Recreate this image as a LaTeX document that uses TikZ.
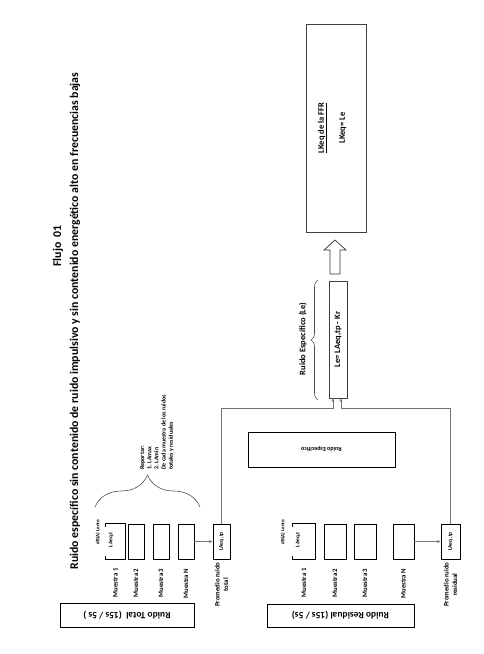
\documentclass[tikz,border=0pt]{standalone}
\usepackage{fontspec}
\setmainfont{Carlito}
\usetikzlibrary{arrows.meta, positioning, decorations.pathreplacing}

\begin{document}
\begin{tikzpicture}[x=1pt, y=-1pt,
    box/.style={rectangle, draw, line width=0.9pt, inner sep=0pt, align=center, font=\bfseries},
    thinbox/.style={rectangle, draw=black!75, line width=0.6pt, inner sep=0pt},
    sample/.style={rectangle, draw, line width=0.9pt, inner sep=0pt, minimum height=35pt},
    tag/.style={rotate=90, align=center, inner sep=0pt, font=\fontsize{6.8}{8.5}\selectfont\bfseries},
    small/.style={rotate=90, align=center, inner sep=0pt, font=\fontsize{5}{6}\selectfont\bfseries},
    big/.style={rotate=90, align=center, inner sep=0pt, font=\fontsize{8.5}{10}\selectfont\bfseries},
    wire/.style={draw=black!55, line width=0.6pt},
    arrow/.style={wire, -{Stealth[length=3.5pt, width=3pt]}},
    brace/.style={draw=black!70, line width=0.6pt, decorate}
]
    \useasboundingbox (0,0) rectangle (484,654);

    % Title
    \node[rotate=90, font=\fontsize{11.8}{13}\selectfont\bfseries] (flujo) at (58,246) {Flujo~~01};
    \node[rotate=90, font=\fontsize{11.8}{13}\selectfont\bfseries] (titulo) at (75,321)
        {Ruido específico sin contenido de ruido impulsivo y sin contenido energético alto en frecuencias bajas};

    % Boxes
    \node[box, rotate=180, minimum width=134pt, minimum height=24pt, font=\fontsize{9.5}{11}\selectfont\bfseries] (total) at (127,615) {Ruido Total~~(15s / 5s )};
    \node[box, rotate=180, minimum width=147pt, minimum height=23pt, font=\fontsize{9.5}{11}\selectfont\bfseries] (residual) at (340.5,615.5) {Ruido Residual (15s / 5s)};
    \node[box, rotate=180, minimum width=147pt, minimum height=35pt, font=\fontsize{6}{7}\selectfont\bfseries] (especifico) at (321.5,449.5) {Ruido Especifico};

    % Samples, ruido total
    \node[minimum width=19pt, minimum height=35pt, inner sep=0pt] (t1) at (115.5,541.5) {};
    \node[sample, minimum width=16pt] (t2) at (136,541.5) {};
    \node[sample, minimum width=16pt] (t3) at (161,541.5) {};
    \node[sample, minimum width=16pt] (tN) at (186,541.5) {};
    \node[sample, minimum width=17pt] (tp) at (221.5,541.5) {};

    % Samples, ruido residual
    \node[minimum width=22pt, minimum height=35pt, inner sep=0pt] (r1) at (304,541.5) {};
    \node[sample, minimum width=22pt] (r2) at (335,541.5) {};
    \node[sample, minimum width=22pt] (r3) at (365,541.5) {};
    \node[sample, minimum width=21pt] (rN) at (403.5,541.5) {};
    \node[sample, minimum width=19pt] (rp) at (450.5,541.5) {};

    \draw[line width=0.9pt] ([yshift=-3pt]t1.north west) -- (t1.north west) -- (t1.north east)
        -- (t1.south east) -- (t1.south west) -- ([yshift=3pt]t1.south west);
    \draw[line width=0.9pt] ([yshift=-3pt]r1.north west) -- (r1.north west) -- (r1.north east)
        -- (r1.south east) -- (r1.south west) -- ([yshift=3pt]r1.south west);

    % Texts in and around the samples
    \node[small] (dbt) at (98,532) {dB(A) Lento};
    \node[small] (dbr) at (283,532) {dB(A) Lento};
    \node[small, font=\fontsize{5.5}{6.5}\selectfont\bfseries] (laeqt) at (111,540) {LAeq,t};
    \node[small, font=\fontsize{5.5}{6.5}\selectfont\bfseries] (laeqr) at (298,540) {LAeq,t};
    \node[small, font=\fontsize{5.5}{6.5}\selectfont\bfseries] (laeqtp) at (tp) {LAeq ,tp};
    \node[small, font=\fontsize{5.5}{6.5}\selectfont\bfseries] (laeqrp) at (rp) {LAeq ,tp};

    \node[tag, below=9pt of t1, anchor=east] (mt1) {Muestra 1};
    \node[tag, below=9pt of t2, anchor=east] (mt2) {Muestra 2};
    \node[tag, below=9pt of t3, anchor=east] (mt3) {Muestra 3};
    \node[tag, below=9pt of tN, anchor=east] (mtN) {Muestra N};
    \node[tag, below=3pt of tp, anchor=east] (mtp) {Promedio ruido\\total};
    \node[tag, below=9pt of r1, anchor=east] (mr1) {Muestra 1};
    \node[tag, below=9pt of r2, anchor=east] (mr2) {Muestra 2};
    \node[tag, below=9pt of r3, anchor=east] (mr3) {Muestra 3};
    \node[tag, below=9pt of rN, anchor=east] (mrN) {Muestra N};
    \node[tag, below=3pt of rp, anchor=east] (mrp) {Promedio ruido\\residual};

    % Brace over the samples
    \draw[brace, decoration={brace, amplitude=32pt}] (95,507) -- (200,507);
    \node[rotate=90, anchor=west, align=left, inner sep=0pt, font=\fontsize{6}{7.2}\selectfont\bfseries] (reporte) at (157,470)
        {Reportar:\\1. LAmax\\2. LAmin\\De cada muestra de los ruidos\\totales y residuales};

    % Le and FFR
    \node[thinbox, minimum width=18pt, minimum height=117pt] (le) at (338,339.5) {};
    \node[big] (letext) at (le) {Le= LAeq,tp - Kr};
    \draw[brace, decoration={brace, amplitude=7pt}] (318,400) -- (318,280);
    \node[big] (lelabel) at (303,339) {Ruido Específico (Le)};

    \node[thinbox, minimum width=60pt, minimum height=208pt] (ffr) at (336,128) {};
    \node[big] (ffrtext) at (332,128) {\underline{LKeq de la FFR}\\[11pt]LKeq= Le};
    % hollow arrow from Le up to the FFR box
    \draw[draw=black!80, line width=0.7pt] (330,274) -- (330,250) -- (324,250) -- (335,240)
        -- (346,250) -- (340,250) -- (340,274) -- cycle;

    % Arrows
    \draw[arrow] (tN) -- (tp);
    \draw[arrow] (rN) -- (rp);
    \coordinate (jt) at (333,408);
    \coordinate (jr) at (341,408);
    \draw[arrow] (tp.north) |- (jt) -- (jt |- le.south);
    \draw[arrow] (rp.north) |- (jr) -- (jr |- le.south);
\end{tikzpicture}
\end{document}
